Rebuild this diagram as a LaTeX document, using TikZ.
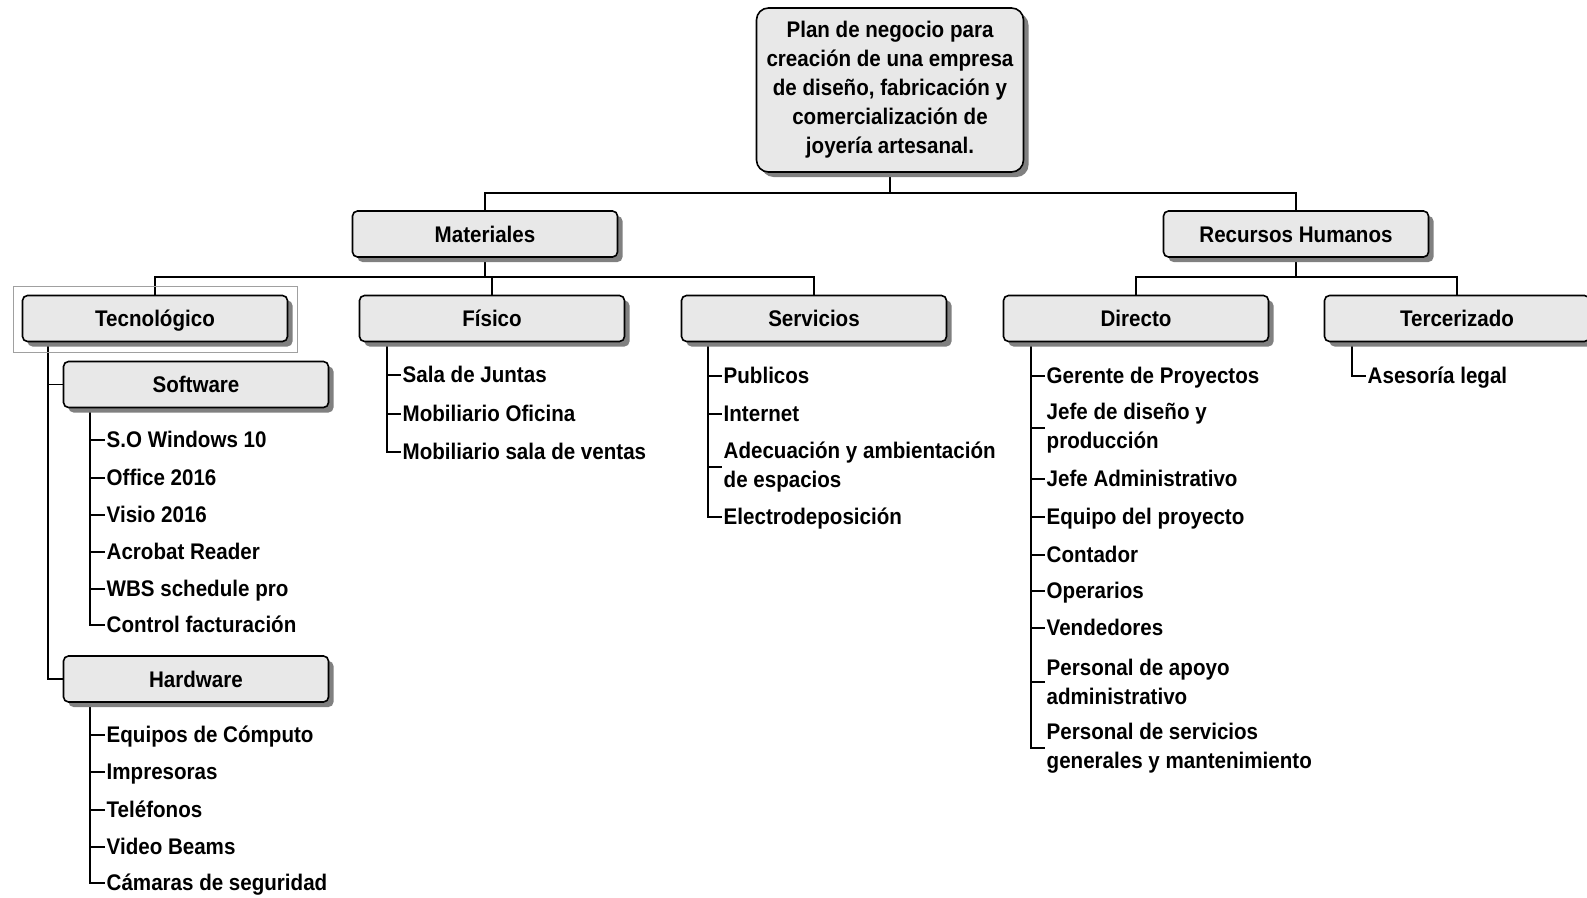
\documentclass[tikz,border=0pt]{standalone}
\usepackage{fontspec}
\setmainfont{Liberation Sans}[FakeStretch=0.91]
\usetikzlibrary{shadows,backgrounds}
\definecolor{boxfill}{RGB}{232,232,232}
\definecolor{shadowgray}{RGB}{128,128,128}
\definecolor{selgray}{RGB}{160,160,160}
\newcommand\chartfont{\fontsize{22.6}{29}\selectfont\bfseries}
\tikzset{
  boxbase/.style={draw=black, line width=1.6pt, rounded corners=5pt, fill=boxfill,
    inner sep=0pt, font=\chartfont,
    drop shadow={shadow xshift=5pt, shadow yshift=-5pt, fill=shadowgray, opacity=1}},
  wbs/.style={boxbase, minimum width=265pt, minimum height=46pt, text height=16pt, text depth=0pt},
  item/.style={anchor=west, inner ysep=0pt, inner xsep=1.5pt, font=\chartfont, text height=16pt, text depth=2pt},
  itemtwo/.style={anchor=west, inner ysep=0pt, inner xsep=1.5pt, font=\chartfont, align=left},
  conn/.style={draw=black, line width=1.6pt},
  selbox/.style={draw=selgray, line width=1.4pt}
}
\begin{document}
\begin{tikzpicture}[x=1pt, y=-1pt]
\useasboundingbox (0,0) rectangle (1587,897);

% levels of the breakdown
\node[boxbase, rounded corners=12pt, minimum width=267pt, minimum height=164pt, align=center] (root) at (890,90)
  {Plan de negocio para\\creación de una empresa\\de diseño, fabricación y\\comercialización de\\joyería artesanal.};
\node[wbs] (mat)  at (485,234)   {Materiales};
\node[wbs] (rh)   at (1296,234)  {Recursos Humanos};
\node[wbs] (tec)  at (155,318.5) {Tecnológico};
\node[wbs] (fis)  at (492,318.5) {Físico};
\node[wbs] (serv) at (814,318.5) {Servicios};
\node[wbs] (dir)  at (1136,318.5){Directo};
\node[wbs] (terc) at (1457,318.5){Tercerizado};
\node[wbs] (soft) at (196,384.5) {Software};
\node[wbs] (hard) at (196,679)   {Hardware};

% selection frame around Tecnológico
\draw[selbox] ([shift={(-8pt,8pt)}]tec.north west) rectangle ([shift={(9pt,-10pt)}]tec.south east);

% leaf items
\node[item] (s1) at (105,440) {S.O Windows 10};
\node[item] (s2) at (105,478) {Office 2016};
\node[item] (s3) at (105,515) {Visio 2016};
\node[item] (s4) at (105,552) {Acrobat Reader};
\node[item] (s5) at (105,589) {WBS schedule pro};
\node[item] (s6) at (105,625) {Control facturación};

\node[item] (h1) at (105,735) {Equipos de Cómputo};
\node[item] (h2) at (105,772) {Impresoras};
\node[item] (h3) at (105,810) {Teléfonos};
\node[item] (h4) at (105,847) {Video Beams};
\node[item] (h5) at (105,883) {Cámaras de seguridad};

\node[item] (f1) at (401,375) {Sala de Juntas};
\node[item] (f2) at (401,414) {Mobiliario Oficina};
\node[item] (f3) at (401,452) {Mobiliario sala de ventas};

\node[item] (v1) at (722,376) {Publicos};
\node[item] (v2) at (722,414) {Internet};
\node[itemtwo] (v3) at (722,467) {Adecuación y ambientación\\de espacios};
\node[item] (v4) at (722,517) {Electrodeposición};

\node[item] (d1) at (1045,376) {Gerente de Proyectos};
\node[itemtwo] (d2) at (1045,428) {Jefe de diseño y\\producción};
\node[item] (d3) at (1045,479) {Jefe Administrativo};
\node[item] (d4) at (1045,517) {Equipo del proyecto};
\node[item] (d5) at (1045,555) {Contador};
\node[item] (d6) at (1045,591) {Operarios};
\node[item] (d7) at (1045,628) {Vendedores};
\node[itemtwo] (d8) at (1045,682) {Personal de apoyo\\administrativo};
\node[itemtwo] (d9) at (1045,748) {Personal de servicios\\generales y mantenimiento};

\node[item] (t1) at (1366,376) {Asesoría legal};

% connectors
\coordinate (y1) at (0,193);
\coordinate (y2) at (0,277);
\coordinate (tecv)  at ([xshift=26pt]tec.south west);
\coordinate (softv) at ([xshift=27pt]soft.south west);
\coordinate (hardv) at ([xshift=27pt]hard.south west);
\coordinate (fisv)  at ([xshift=28pt]fis.south west);
\coordinate (servv) at ([xshift=27pt]serv.south west);
\coordinate (dirv)  at ([xshift=28pt]dir.south west);
\coordinate (tercv) at ([xshift=28pt]terc.south west);

\begin{scope}[on background layer]
  \draw[conn] (root.south) -- (root.south |- y1);
  \draw[conn] (mat.north) -- (mat.north |- y1) -- (rh.north |- y1) -- (rh.north);

  \draw[conn] (mat.south) -- (mat.south |- y2);
  \draw[conn] (tec.north) -- (tec.north |- y2) -- (serv.north |- y2) -- (serv.north);
  \draw[conn] (fis.north) -- (fis.north |- y2);

  \draw[conn] (rh.south) -- (rh.south |- y2);
  \draw[conn] (dir.north) -- (dir.north |- y2) -- (terc.north |- y2) -- (terc.north);

  \draw[conn] (tecv) |- (hard.west);
  \draw[conn] (soft.west) -- (soft.west -| tecv);

  \draw[conn] (softv) |- (s6.west);
  \foreach \n in {s1,s2,s3,s4,s5} \draw[conn] (\n.west -| softv) -- (\n.west);
  \draw[conn] (hardv) |- (h5.west);
  \foreach \n in {h1,h2,h3,h4} \draw[conn] (\n.west -| hardv) -- (\n.west);
  \draw[conn] (fisv) |- (f3.west);
  \foreach \n in {f1,f2} \draw[conn] (\n.west -| fisv) -- (\n.west);
  \draw[conn] (servv) |- (v4.west);
  \foreach \n in {v1,v2,v3} \draw[conn] (\n.west -| servv) -- (\n.west);
  \draw[conn] (dirv) |- (d9.west);
  \foreach \n in {d1,d2,d3,d4,d5,d6,d7,d8} \draw[conn] (\n.west -| dirv) -- (\n.west);
  \draw[conn] (tercv) |- (t1.west);
\end{scope}
\end{tikzpicture}
\end{document}
